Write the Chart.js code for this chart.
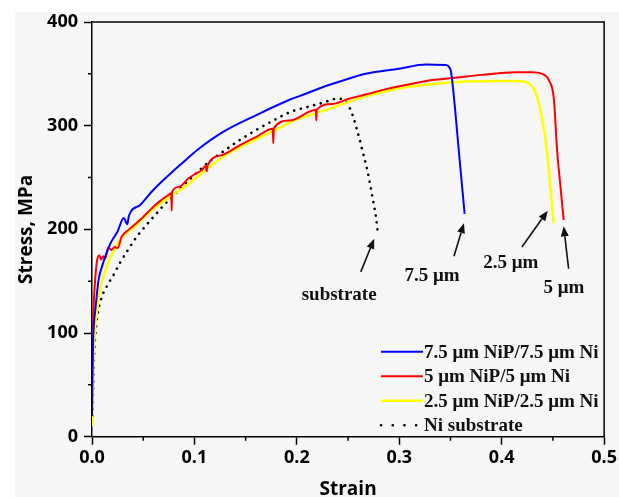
<!DOCTYPE html>
<html>
<head>
<meta charset="utf-8">
<script src="https://cdn.jsdelivr.net/npm/chart.js@4.4.1/dist/chart.umd.min.js"></script>
<style>
    html, body { margin: 0; padding: 0; background: #fff; }
    #wrap { width: 619px; height: 497px; position: relative; }
</style>
</head>
<body>
<div id="wrap"><canvas id="stressStrain"></canvas></div>
<script>
// Curvas tensión-deformación: recubrimientos NiP/Ni frente al sustrato de Ni
const seriesLabels = ['7.5 μm NiP/7.5 μm Ni', '5 μm NiP/5 μm Ni', '2.5 μm NiP/2.5 μm Ni', 'Ni substrate'];

const blueStrain = [0, 0.0005, 0.001, 0.002, 0.0032, 0.0064, 0.01, 0.0178, 0.025, 0.031, 0.0345, 0.036, 0.047, 0.058, 0.0664, 0.079, 0.0859, 0.1034, 0.128, 0.16, 0.193, 0.2025, 0.225, 0.245, 0.267, 0.30, 0.326, 0.345, 0.350, 0.353, 0.358, 0.3638];
const blueStress = [20, 60, 90, 110, 122, 151, 165, 186, 198, 211, 205, 213, 223.5, 236, 244.5, 256, 262, 277, 294, 310, 325, 328.5, 337, 343.5, 350, 355, 359, 358.5, 354, 331, 277, 215];

const redStrain = [0, 0.001, 0.003, 0.005, 0.007, 0.009, 0.011, 0.013, 0.016, 0.019, 0.022, 0.025, 0.029, 0.035, 0.042, 0.05, 0.058, 0.066, 0.0745, 0.0775, 0.0778, 0.0782, 0.085, 0.094, 0.1, 0.107, 0.111, 0.112, 0.113, 0.128, 0.144, 0.16, 0.1765, 0.177, 0.1775, 0.193, 0.2185, 0.219, 0.2195, 0.235, 0.251, 0.267, 0.29, 0.30, 0.332, 0.352, 0.381, 0.413, 0.4295, 0.4393, 0.446, 0.451, 0.454, 0.4575, 0.4605];
const redStress = [60, 110, 150, 170, 175, 171, 174, 172, 183, 180, 183, 182, 193, 199, 205, 212, 220, 227, 233, 235, 218, 236, 241, 249, 253, 257, 261, 256, 262, 272, 281, 289, 297, 283, 297.5, 305, 315, 305, 315.5, 321, 326, 330, 336, 338, 344, 346, 349, 351.5, 351.5, 350, 344, 325, 277, 240, 209];

const yellowStrain = [0, 0.0008, 0.0016, 0.003, 0.005, 0.008, 0.013, 0.0195, 0.029, 0.042, 0.058, 0.075, 0.0907, 0.107, 0.128, 0.144, 0.1605, 0.177, 0.2, 0.225, 0.251, 0.267, 0.29, 0.30, 0.332, 0.3645, 0.397, 0.416, 0.426, 0.4328, 0.439, 0.444, 0.4507];
const yellowStress = [10, 50, 80, 105, 122, 143, 160, 176, 192, 203, 218, 231, 241, 254, 270, 279, 287, 295, 306, 314, 323, 328, 334, 336, 340, 342.5, 343, 343, 341, 333, 309, 277, 206];

const substrateStrain = [0.0005, 0.001, 0.0016, 0.003, 0.005, 0.0097, 0.015, 0.021, 0.0275, 0.035, 0.043, 0.052, 0.06, 0.068, 0.08, 0.0908, 0.1005, 0.114, 0.128, 0.144, 0.1605, 0.177, 0.193, 0.21, 0.225, 0.2399, 0.2455, 0.25, 0.2545, 0.259, 0.264, 0.269, 0.274, 0.2775, 0.279];
const substrateStress = [20, 40, 67, 95, 115, 135, 146, 156, 168, 180, 192, 203, 212, 221, 233, 244, 253, 265, 275, 286, 296, 305, 313, 318, 322, 326, 325, 320, 310, 295, 276, 256, 230, 210, 197];

// Flechas con etiqueta (coordenadas en unidades de los ejes)
const arrowNotes = [
    { text: 'substrate', tx: 0.2413, ty: 137, x0: 0.2624, y0: 159, x1: 0.2755, y1: 191 },
    { text: '7.5 μm', tx: 0.332, ty: 155, x0: 0.3534, y0: 174, x1: 0.3631, y1: 206 },
    { text: '2.5 μm', tx: 0.4089, ty: 167, x0: 0.4197, y0: 183, x1: 0.445, y1: 218 },
    { text: '5 μm', tx: 0.4608, ty: 143, x0: 0.4653, y0: 162, x1: 0.4605, y1: 203 }
];

const xMinorTicks = [0.05, 0.15, 0.25, 0.35, 0.45];
const yMinorTicks = [50, 150, 250, 350];

const toPoints = (xs, ys) => xs.map((x, i) => ({ x: x, y: ys[i] }));

const TICK_FONT = { family: '"Open Sans", sans-serif', size: 18, weight: 'bold' };
const TITLE_FONT = { family: '"Open Sans", sans-serif', size: 19, weight: 'bold' };
const SERIF_FONT = 'bold 19px "Liberation Serif", "Times New Roman", serif';

// Fondo gris claro, marco superior/derecho y marcas menores
const framePlugin = {
    id: 'frame',
    beforeDraw(chart) {
        const ctx = chart.ctx;
        ctx.save();
        ctx.fillStyle = '#f6f6f6';
        ctx.fillRect(15, 12, chart.width - 15, chart.height - 12);
        ctx.restore();
    },
    afterDraw(chart) {
        const ctx = chart.ctx;
        const a = chart.chartArea;
        const xs = chart.scales.x, ys = chart.scales.y;
        ctx.save();
        ctx.strokeStyle = '#000';
        ctx.lineWidth = 1.5;
        ctx.beginPath();
        ctx.moveTo(a.left, a.top);
        ctx.lineTo(a.right, a.top);
        ctx.lineTo(a.right, a.bottom);
        ctx.stroke();
        ctx.beginPath();
        xMinorTicks.forEach(v => {
            const px = xs.getPixelForValue(v);
            ctx.moveTo(px, a.bottom);
            ctx.lineTo(px, a.bottom + 4);
        });
        yMinorTicks.forEach(v => {
            const py = ys.getPixelForValue(v);
            ctx.moveTo(a.left, py);
            ctx.lineTo(a.left - 4, py);
        });
        ctx.stroke();
        ctx.restore();
    }
};

// Flechas y textos sobre las curvas
const notesPlugin = {
    id: 'notes',
    afterDatasetsDraw(chart) {
        const ctx = chart.ctx;
        const xs = chart.scales.x, ys = chart.scales.y;
        ctx.save();
        ctx.fillStyle = '#111';
        ctx.strokeStyle = '#111';
        ctx.lineWidth = 1.6;
        ctx.font = SERIF_FONT;
        ctx.textAlign = 'center';
        ctx.textBaseline = 'middle';
        arrowNotes.forEach(n => {
            const x0 = xs.getPixelForValue(n.x0), y0 = ys.getPixelForValue(n.y0);
            const x1 = xs.getPixelForValue(n.x1), y1 = ys.getPixelForValue(n.y1);
            const ang = Math.atan2(y1 - y0, x1 - x0);
            const head = 10, half = 4;
            const bx = x1 - head * Math.cos(ang), by = y1 - head * Math.sin(ang);
            ctx.beginPath();
            ctx.moveTo(x0, y0);
            ctx.lineTo(bx, by);
            ctx.stroke();
            ctx.beginPath();
            ctx.moveTo(x1, y1);
            ctx.lineTo(bx + half * Math.sin(ang), by - half * Math.cos(ang));
            ctx.lineTo(bx - half * Math.sin(ang), by + half * Math.cos(ang));
            ctx.closePath();
            ctx.fill();
            ctx.fillText(n.text, xs.getPixelForValue(n.tx), ys.getPixelForValue(n.ty));
        });
        ctx.restore();
    }
};

// Leyenda propia dentro del área del gráfico (abajo a la derecha)
const legendPlugin = {
    id: 'insideLegend',
    afterDraw(chart) {
        const ctx = chart.ctx;
        const a = chart.chartArea;
        const lx = a.left + 287, lineLen = 44, rowH = 24.5;
        let ly = a.bottom - 85;
        ctx.save();
        ctx.font = SERIF_FONT;
        ctx.textBaseline = 'middle';
        ctx.textAlign = 'left';
        chart.data.datasets.forEach(ds => {
            const dotted = !!ds.borderDash;
            ctx.strokeStyle = ds.borderColor;
            ctx.lineWidth = ds.borderWidth;
            ctx.lineCap = dotted ? 'round' : 'butt';
            ctx.setLineDash(dotted ? [0.1, 11.6] : []);
            ctx.beginPath();
            ctx.moveTo(lx + 2, ly);
            ctx.lineTo(dotted ? lx + 38 : lx + lineLen, ly);
            ctx.stroke();
            ctx.setLineDash([]);
            ctx.fillStyle = '#111';
            ctx.fillText(ds.label, lx + lineLen + 1, ly + 1);
            ly += rowH;
        });
        ctx.restore();
    }
};

function buildDataset(label, xs, ys, color, extra) {
    return Object.assign({
        label: label,
        data: toPoints(xs, ys),
        borderColor: color,
        backgroundColor: color,
        borderWidth: 2,
        pointRadius: 0,
        cubicInterpolationMode: 'monotone',
        fill: false
    }, extra || {});
}

new Chart(document.getElementById('stressStrain').getContext('2d'), {
    type: 'line',
    data: {
        datasets: [
            buildDataset(seriesLabels[0], blueStrain, blueStress, '#0000ff'),
            buildDataset(seriesLabels[1], redStrain, redStress, '#ff0000'),
            buildDataset(seriesLabels[2], yellowStrain, yellowStress, '#ffff00', { borderWidth: 2.5 }),
            buildDataset(seriesLabels[3], substrateStrain, substrateStress, '#000000', {
                borderWidth: 2.6,
                borderDash: [0.1, 6.8],
                borderCapStyle: 'round'
            })
        ]
    },
    options: {
        responsive: true,
        maintainAspectRatio: false,
        animation: false,
        layout: { padding: { left: 15, right: 13, top: 22, bottom: 0 } },
        scales: {
            x: {
                type: 'linear',
                min: 0,
                max: 0.5,
                ticks: {
                    stepSize: 0.1,
                    color: '#000',
                    font: TICK_FONT,
                    padding: 2,
                    maxRotation: 0,
                    callback: v => v.toFixed(1)
                },
                grid: { drawOnChartArea: false, tickLength: 8, tickColor: '#000', tickWidth: 1.5 },
                border: { color: '#000', width: 1.5 },
                title: { display: true, text: 'Strain', color: '#000', font: TITLE_FONT, padding: { top: 0, bottom: -4 } },
                afterFit(scale) { scale.height = 60.3; }
            },
            y: {
                min: 0,
                max: 400,
                ticks: { stepSize: 100, color: '#000', font: TICK_FONT, padding: 6 },
                grid: { drawOnChartArea: false, tickLength: 8, tickColor: '#000', tickWidth: 1.5 },
                border: { color: '#000', width: 1.5 },
                title: { display: true, text: 'Stress, MPa', color: '#000', font: TITLE_FONT, padding: { top: 0, bottom: 0 } },
                afterFit(scale) { scale.width = 77; }
            }
        },
        plugins: {
            legend: { display: false },
            tooltip: { enabled: false }
        }
    },
    plugins: [framePlugin, notesPlugin, legendPlugin]
});
</script>
</body>
</html>
